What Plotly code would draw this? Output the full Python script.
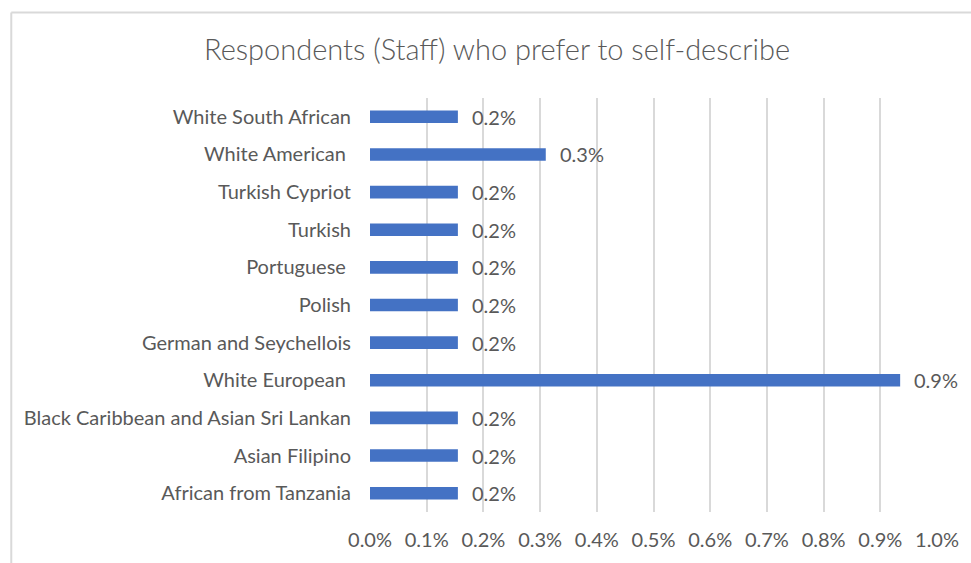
import plotly.graph_objects as go

# Ethnicity descriptions given by staff, listed bottom to top
categories = [
    "African from Tanzania",
    "Asian Filipino",
    "Black Caribbean and Asian Sri Lankan",
    "White European\u00a0",
    "German and Seychellois",
    "Polish",
    "Portuguese\u00a0",
    "Turkish",
    "Turkish Cypriot",
    "White American\u00a0",
    "White South African",
]
# Share of staff respondents (fraction)
shares = [0.00155, 0.00155, 0.00155, 0.00935, 0.00155, 0.00155,
          0.00155, 0.00155, 0.00155, 0.0031, 0.00155]

x_ticks = [i / 1000 for i in range(11)]
x_tick_labels = [f"{v:.1%}" for v in x_ticks]

W, H = 971, 563
ML, MR, MT, MB = 370, 32, 98, 48
PW, PH = W - ML - MR, H - MT - MB

TEXT = "#595959"
FONT = "Lato"

fig = go.Figure(
    go.Bar(
        y=categories,
        x=shares,
        orientation="h",
        marker=dict(color="#4472C4", line=dict(width=0)),
        hoverinfo="skip",
    )
)

# value labels to the right of each bar
for cat, v in zip(categories, shares):
    fig.add_annotation(
        x=v, y=cat, text=f"{v:.1%}", showarrow=False,
        xanchor="left", yanchor="middle", xshift=12,
        font=dict(family=FONT, size=20, color=TEXT),
    )

# chart frame (top and left edges)
def px_to_paper_x(px):
    return (px - ML) / PW

def px_to_paper_y(py):
    return 1 - (py - MT) / PH

frame = dict(color="#D9D9D9", width=2)
fig.add_shape(type="line", xref="paper", yref="paper",
              x0=px_to_paper_x(10), x1=px_to_paper_x(W + 5),
              y0=px_to_paper_y(12), y1=px_to_paper_y(12), line=frame)
fig.add_shape(type="line", xref="paper", yref="paper",
              x0=px_to_paper_x(10), x1=px_to_paper_x(10),
              y0=px_to_paper_y(12), y1=px_to_paper_y(H + 5), line=frame)

fig.update_layout(
    width=W, height=H,
    margin=dict(l=ML, r=MR, t=MT, b=MB, pad=0),
    paper_bgcolor="white", plot_bgcolor="white",
    bargap=0.665,
    showlegend=False,
    title=dict(
        text="Respondents (Staff) who prefer to self-describe",
        x=(497) / W, xanchor="center", y=1 - 50 / H, yanchor="middle",
        font=dict(family=FONT, size=29, color=TEXT, weight=300),
    ),
    xaxis=dict(
        range=[0, 0.01], tickvals=x_ticks, ticktext=x_tick_labels,
        showgrid=True, gridcolor="#D9D9D9", gridwidth=2,
        zeroline=False, showline=False, ticks="",
        tickfont=dict(family=FONT, size=20, color=TEXT),
        ticklabelstandoff=14,
        fixedrange=True,
    ),
    yaxis=dict(
        categoryorder="array", categoryarray=categories,
        showgrid=False, zeroline=False, showline=False, ticks="",
        tickfont=dict(family=FONT, size=20, color=TEXT),
        ticklabelstandoff=18,
        fixedrange=True,
    ),
)

fig.write_html("out.html", config={"displayModeBar": False})
